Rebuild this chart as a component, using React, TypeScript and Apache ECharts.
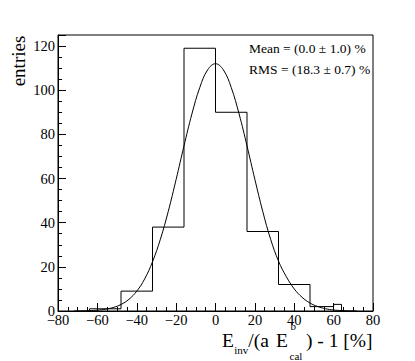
import React, { useEffect, useRef } from "react";
import * as echarts from "echarts";

// Histogram bin edges (low edges + final high edge) and counts
const binEdges = [-64, -48, -32, -16, 0, 16, 32, 48, 60, 64];
const binCounts = [1, 9, 38, 119, 90, 36, 12, 2, 3];

// Fit curve samples
const fitX = [
  -72, -68, -64, -60, -56, -52, -48, -44, -40, -36, -32, -28, -24, -20, -16, -12, -8, -4,
  0, 4, 8, 12, 16, 20, 24, 28, 32, 36, 40, 44, 48, 52, 56, 60, 64, 68, 72,
];
const fitY = [
  0.03, 0.08, 0.17, 0.38, 0.79, 1.57, 2.95, 5.27, 8.97, 14.5, 22.3, 32.5, 45.1, 59.6, 74.8, 89.2, 101.2, 109.2,
  112, 109.2, 101.2, 89.2, 74.8, 59.6, 45.1, 32.5, 22.6, 15.5, 10.0, 6.2, 3.6, 2.0, 1.0, 0.45, 0.2, 0.09, 0.03,
];

const statLines = ["Mean = (0.0 \u00b1 1.0) %", "RMS = (18.3 \u00b1 0.7) %"];

const SERIF = '"Liberation Serif", "DejaVu Serif", serif';

function txt(
  text: string,
  x: number,
  y: number,
  size: number,
  align = "left",
  rotation = 0,
  lineHeight?: number
) {
  const style: any = {
    text,
    fill: "#000",
    fontSize: size,
    fontFamily: SERIF,
    align,
    verticalAlign: "middle",
    textAlign: align,
    textVerticalAlign: "middle",
  };
  if (lineHeight) style.lineHeight = lineHeight;
  return {
    type: "text",
    x,
    y,
    rotation,
    silent: true,
    style,
  };
}

export default function App() {
  const ref = useRef<HTMLDivElement>(null);
  useEffect(() => {
    document.body.style.margin = "0";
    if (!ref.current) return;
    const chart = echarts.init(ref.current, null, { renderer: "svg" });

    const histData: number[][] = [[binEdges[0], 0]];
    for (let i = 0; i < binCounts.length; i++) histData.push([binEdges[i], binCounts[i]]);
    histData.push([binEdges[binEdges.length - 1], 0]);

    const fitData = fitX.map((x, i) => [x, fitY[i]]);
    const fmt = (v: number) => String(v).replace("-", "\u2212");

    chart.setOption({
      animation: false,
      grid: {
        left: 58,
        right: 42,
        top: 35,
        bottom: 50,
        show: true,
        borderColor: "#000",
        borderWidth: 1,
        backgroundColor: "transparent",
      },
      xAxis: {
        type: "value",
        min: -80,
        max: 80,
        interval: 20,
        axisLine: { show: true, onZero: false, lineStyle: { color: "#000", width: 1 } },
        axisTick: { show: true, inside: true, length: 8, lineStyle: { color: "#000" } },
        minorTick: { show: true, splitNumber: 4, length: 4, lineStyle: { color: "#000" } },
        splitLine: { show: false },
        axisLabel: {
          color: "#000",
          fontSize: 14.5,
          fontFamily: SERIF,
          margin: 1,
          formatter: fmt,
        },
      },
      yAxis: {
        type: "value",
        min: 0,
        max: 125,
        interval: 20,
        axisLine: { show: true, onZero: false, lineStyle: { color: "#000", width: 1 } },
        axisTick: { show: true, inside: true, length: 8, lineStyle: { color: "#000" } },
        minorTick: { show: true, splitNumber: 4, length: 4, lineStyle: { color: "#000" } },
        splitLine: { show: false },
        axisLabel: {
          color: "#000",
          fontSize: 14.5,
          fontFamily: SERIF,
          margin: 3,
          showMaxLabel: false,
          formatter: fmt,
        },
      },
      series: [
        {
          type: "line",
          data: histData,
          step: "end",
          symbol: "none",
          lineStyle: { color: "#000", width: 1 },
          silent: true,
        },
        {
          type: "line",
          data: fitData,
          smooth: 0.4,
          symbol: "none",
          lineStyle: { color: "#000", width: 1 },
          silent: true,
        },
      ],
      graphic: [
        txt(statLines[0], 249, 48, 13.5),
        txt(statLines[1], 249, 69, 13.5),
        txt("entries", 18.6, 61, 19, "center", Math.PI / 2),
        txt("E", 222, 340.6, 19.5, "left", 0, 15),
        txt("inv", 234.2, 349.5, 11, "left", 0, 9),
        txt("/(a", 248.3, 340.6, 19.5, "left", 0, 15),
        txt("E", 276, 340.6, 19.5, "left", 0, 15),
        txt("b", 290.5, 325.6, 11, "left", 0, 10),
        txt("cal", 289.5, 356, 11, "left", 0, 9),
        txt(") - 1 [%]", 306, 340.6, 19.5, "left", 0, 15),
      ],
    });
    return () => chart.dispose();
  }, []);
  return <div ref={ref} style={{ width: 415, height: 361 }} />;
}
